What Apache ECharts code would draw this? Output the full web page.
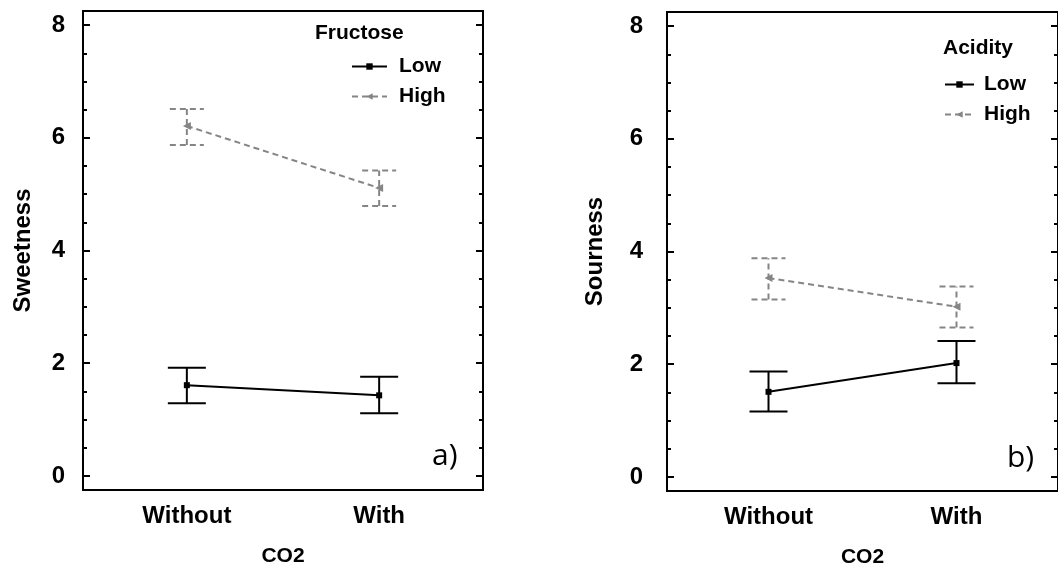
<!DOCTYPE html>
<html>
<head>
<meta charset="utf-8">
<script src="https://cdn.jsdelivr.net/npm/echarts@6/dist/echarts.min.js"></script>
<style>
  html, body { margin: 0; padding: 0; background: #fff; }
  #main { width: 1058px; height: 573px; }
</style>
</head>
<body>
<div id="main"></div>
<script>
// categories on the x axis (CO2)
const co2 = ['Without', 'With']
const yTicks = [0, 2, 4, 6, 8]
const yMinor = [0.5, 1, 1.5, 2.5, 3, 3.5, 4.5, 5, 5.5, 6.5, 7, 7.5]

// panel a) sweetness, by fructose level
const sweetLow = [1.61, 1.43]
const sweetLowErrLo = [1.29, 1.11]
const sweetLowErrHi = [1.92, 1.76]
const sweetHigh = [6.21, 5.11]
const sweetHighErrLo = [5.87, 4.79]
const sweetHighErrHi = [6.51, 5.42]

// panel b) sourness, by acidity level
const sourLow = [1.51, 2.02]
const sourLowErrLo = [1.16, 1.66]
const sourLowErrHi = [1.87, 2.41]
const sourHigh = [3.53, 3.02]
const sourHighErrLo = [3.15, 2.65]
const sourHighErrHi = [3.88, 3.38]

const FONT = 'Arial, "Liberation Sans", sans-serif'
const GREY = '#858585'

const pts = vals => vals.map((v, i) => [i, v])
const errs = (lo, hi) => lo.map((l, i) => [i, l, hi[i]])

function errorBars (grid, lo, hi, color, dashed, half) {
  return {
    type: 'custom',
    xAxisIndex: grid,
    yAxisIndex: grid * 4,
    silent: true,
    z: 1,
    data: errs(lo, hi),
    renderItem: (params, api) => {
      const x = api.value(0)
      const a = api.coord([x, api.value(1)])
      const b = api.coord([x, api.value(2)])
      const style = { stroke: color, lineWidth: 2, lineDash: dashed ? [6, 4] : null }
      return {
        type: 'group',
        children: [
          { type: 'line', shape: { x1: a[0], y1: a[1], x2: b[0], y2: b[1] }, style },
          { type: 'line', shape: { x1: a[0] - half, y1: a[1], x2: a[0] + half, y2: a[1] }, style },
          { type: 'line', shape: { x1: b[0] - half, y1: b[1], x2: b[0] + half, y2: b[1] }, style }
        ]
      }
    }
  }
}

function lineSeries (grid, name, vals, color, dashed) {
  return {
    type: 'line',
    name,
    xAxisIndex: grid,
    yAxisIndex: grid * 4,
    data: pts(vals),
    symbol: dashed ? 'triangle' : 'rect',
    symbolRotate: dashed ? 90 : 0,
    symbolSize: dashed ? 8 : 6,
    z: 3,
    itemStyle: { color },
    lineStyle: { color, width: 2, type: dashed ? [6, 4] : 'solid' }
  }
}

function yAxes (grid, name, labelMargin, nameGap) {
  const base = {
    type: 'value',
    gridIndex: grid,
    min: -0.25,
    max: 8.25,
    axisLine: { show: false, onZero: false },
    splitLine: { show: false }
  }
  const out = []
  ;['left', 'right'].forEach(pos => {
    out.push(Object.assign({}, base, {
      position: pos,
      name: pos === 'left' ? name : '',
      nameLocation: 'middle',
      nameGap,
      nameTextStyle: { fontFamily: FONT, fontWeight: 'bold', fontSize: 24, color: '#000' },
      axisTick: { show: true, inside: true, length: 7, customValues: yTicks, lineStyle: { color: '#000', width: 2 } },
      axisLabel: {
        show: pos === 'left', customValues: yTicks, margin: labelMargin,
        fontFamily: FONT, fontWeight: 'bold', fontSize: 24, color: '#000'
      }
    }))
    out.push(Object.assign({}, base, {
      position: pos,
      axisTick: { show: true, inside: true, length: 4, customValues: yMinor, lineStyle: { color: '#000', width: 2 } },
      axisLabel: { show: false }
    }))
  })
  return out
}

function xAxis (grid) {
  return {
    type: 'value',
    gridIndex: grid,
    min: -0.54,
    max: 1.54,
    name: 'CO2',
    nameLocation: 'middle',
    nameGap: 56,
    nameTextStyle: { fontFamily: FONT, fontWeight: 'bold', fontSize: 21, color: '#000' },
    axisLine: { show: false, onZero: false },
    axisTick: { show: false },
    splitLine: { show: false },
    axisLabel: {
      customValues: [0, 1],
      formatter: v => co2[Math.round(v)],
      margin: 14,
      fontFamily: FONT, fontWeight: 'bold', fontSize: 24, color: '#000'
    }
  }
}

function legend (left, top, width, gap, data) {
  return {
    orient: 'vertical',
    left,
    top,
    data,
    padding: 0,
    itemWidth: width,
    itemHeight: 8,
    itemGap: 9,
    selectedMode: false,
    textStyle: {
      fontFamily: FONT, fontWeight: 'bold', fontSize: 21, color: '#000',
      lineHeight: 21, padding: [0, 0, 0, gap]
    }
  }
}

const chart = echarts.init(document.getElementById('main'))
chart.setOption({
  backgroundColor: '#fff',
  animation: false,
  title: [
    { text: 'Fructose', left: 315, top: 23, padding: 0, textStyle: { fontFamily: FONT, fontWeight: 'bold', fontSize: 21, color: '#000' } },
    { text: 'Acidity', left: 943, top: 38, padding: 0, textStyle: { fontFamily: FONT, fontWeight: 'bold', fontSize: 21, color: '#000' } }
  ],
  legend: [
    legend(351, 56, 35, 7, ['Low', 'High']),
    legend(944, 74, 29, 5, ['Low', 'High'])
  ],
  grid: [
    { left: 83, top: 11, width: 400, height: 479, show: true, borderColor: '#000', borderWidth: 2 },
    { left: 667, top: 12, width: 400, height: 479, show: true, borderColor: '#000', borderWidth: 2 }
  ],
  xAxis: [xAxis(0), xAxis(1)],
  yAxis: [].concat(yAxes(0, 'Sweetness', 18, 48), yAxes(1, 'Sourness', 24, 60)),
  graphic: [
    { type: 'text', left: 432, top: 441, style: { text: 'a)', fontFamily: '"Open Sans", sans-serif', fontSize: 30, fill: '#000' } },
    { type: 'text', left: 1007, top: 443, style: { text: 'b)', fontFamily: '"Open Sans", sans-serif', fontSize: 30, fill: '#000' } }
  ],
  series: [
    errorBars(0, sweetLowErrLo, sweetLowErrHi, '#000', false, 19),
    errorBars(0, sweetHighErrLo, sweetHighErrHi, GREY, true, 17),
    lineSeries(0, 'Low', sweetLow, '#000', false),
    lineSeries(0, 'High', sweetHigh, GREY, true),
    errorBars(1, sourLowErrLo, sourLowErrHi, '#000', false, 19),
    errorBars(1, sourHighErrLo, sourHighErrHi, GREY, true, 17),
    lineSeries(1, 'Low', sourLow, '#000', false),
    lineSeries(1, 'High', sourHigh, GREY, true)
  ]
})
</script>
</body>
</html>
